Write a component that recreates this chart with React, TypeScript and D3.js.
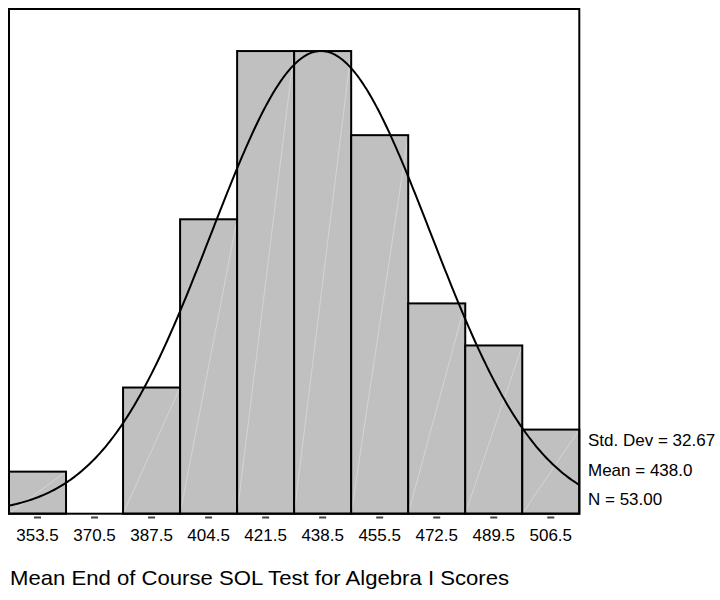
import React from "react";
import * as d3 from "d3";

const binCenters = [353.5, 370.5, 387.5, 404.5, 421.5, 438.5, 455.5, 472.5, 489.5, 506.5];
const counts = [1, 0, 3, 7, 11, 11, 9, 5, 4, 2];
const binWidth = 17;
const stdDev = 32.67;
const mean = 438.0;
const n = 53;
const statsLabels = ["Std. Dev = 32.67", "Mean = 438.0", "N = 53.00"];
const title = "Mean End of Course SOL Test for Algebra I Scores";

const W = 720;
const H = 600;
const left = 9;
const right = 579.3;
const top = 9;
const bottom = 513.7;

export default function App() {
  const x = d3.scaleLinear().domain([345, 515]).range([left, right]);
  const y = d3.scaleLinear().domain([0, 12]).range([bottom, top]);

  const curvePts: [number, number][] = d3.range(345, 515.01, 0.5).map((v) => {
    const z = (v - mean) / stdDev;
    const dens = (n * binWidth) / (stdDev * Math.sqrt(2 * Math.PI)) * Math.exp(-0.5 * z * z);
    return [v, dens];
  });
  const line = d3
    .line<[number, number]>()
    .x((d) => x(d[0]))
    .y((d) => y(d[1]))
    .curve(d3.curveLinear);

  const font = "Arial, 'Liberation Sans', Helvetica, sans-serif";

  return (
    <svg width={W} height={H} style={{ position: "absolute", left: 0, top: 0 }} fontFamily={font}>
      <rect x={0} y={0} width={W} height={H} fill="#fff" />
      {binCenters.map((c, i) => {
        const x0 = x(c - binWidth / 2);
        const x1 = x(c + binWidth / 2);
        const yt = y(counts[i]);
        if (counts[i] === 0) return null;
        return (
          <g key={i}>
            <rect x={x0} y={yt} width={x1 - x0} height={bottom - yt} fill="#c0c0c0" stroke="none" />
            <line x1={x0} y1={bottom} x2={x1} y2={yt} stroke="#dcdcdc" strokeWidth={0.7} />
            <rect x={x0} y={yt} width={x1 - x0} height={bottom - yt} fill="none" stroke="#000" strokeWidth={2} />
          </g>
        );
      })}
      <path d={line(curvePts) || ""} fill="none" stroke="#000" strokeWidth={2} strokeLinejoin="round" />
      <rect x={left} y={top} width={right - left} height={bottom - top} fill="none" stroke="#000" strokeWidth={2} />
      {binCenters.map((c, i) => (
        <g key={"t" + i}>
          <line x1={x(c) - 3.5} x2={x(c) + 3.5} y1={517.5} y2={517.5} stroke="#444" strokeWidth={2} />
          <text x={x(c)} y={541} fontSize={17} textAnchor="middle" fill="#000">
            {c.toFixed(1)}
          </text>
        </g>
      ))}
      {statsLabels.map((s, i) => (
        <text key={"s" + i} x={588} y={446 + i * 29.5} fontSize={17} fill="#000">
          {s}
        </text>
      ))}
      <text x={10} y={585} fontSize={21} fill="#000" textLength={499} lengthAdjust="spacingAndGlyphs">
        {title}
      </text>
    </svg>
  );
}
